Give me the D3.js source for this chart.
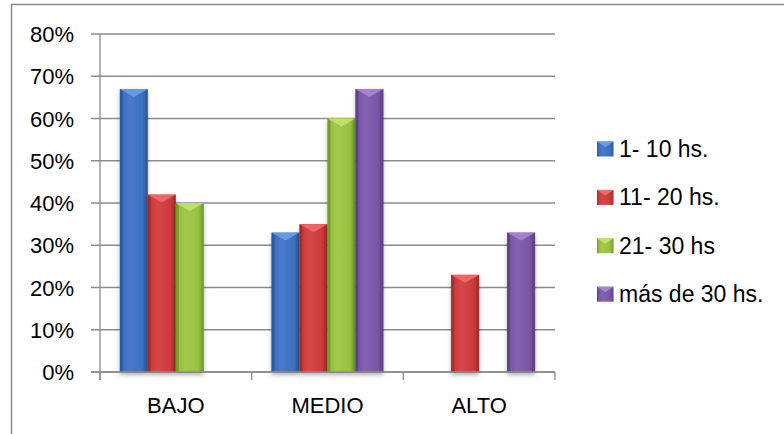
<!DOCTYPE html>
<html><head><meta charset="utf-8">
<script src="https://cdn.jsdelivr.net/npm/d3@7"></script>
<style>body{margin:0;background:#fff;} svg{display:block;} text{font-family:"Liberation Sans",Arial,sans-serif;fill:#000;}</style>
</head><body>
<script>
const categories = ["BAJO", "MEDIO", "ALTO"];
const series = ["1- 10 hs.", "11- 20 hs.", "21- 30 hs", "más de 30 hs."];
const values1to10 = [0.67, 0.33, 0];
const values11to20 = [0.42, 0.35, 0.23];
const values21to30 = [0.40, 0.60, 0];
const valuesOver30 = [0, 0.67, 0.33];
const yTicks = [0, 0.1, 0.2, 0.3, 0.4, 0.5, 0.6, 0.7, 0.8];
const colors = ["#3c70bf", "#cc3b3b", "#97c13f", "#7a56a6"];
const light = ["#6b9de6", "#ee6b6b", "#c2e36a", "#a587d0"];
const dark = ["#2a5597", "#9e2a2a", "#6f9428", "#5a3d80"];

const allValues = [values1to10, values11to20, values21to30, valuesOver30];

const W = 784, H = 434;
const svg = d3.select("body").append("svg").attr("width", W).attr("height", H);
const defs = svg.append("defs");
colors.forEach((c, i) => {
  const g = defs.append("linearGradient").attr("id", "g" + i).attr("x1", "0").attr("x2", "1").attr("y1", "0").attr("y2", "0");
  g.append("stop").attr("offset", "0").attr("stop-color", dark[i]);
  g.append("stop").attr("offset", "0.12").attr("stop-color", c);
  g.append("stop").attr("offset", "0.35").attr("stop-color", d3.interpolateRgb(c, light[i])(0.25));
  g.append("stop").attr("offset", "0.8").attr("stop-color", c);
  g.append("stop").attr("offset", "1").attr("stop-color", dark[i]);
});
const f = defs.append("filter").attr("id", "sh").attr("x", "-20%").attr("y", "-5%").attr("width", "140%").attr("height", "115%");
f.append("feDropShadow").attr("dx", 0).attr("dy", 3).attr("stdDeviation", 2).attr("flood-color", "#000").attr("flood-opacity", 0.3);

// outer border
svg.append("rect").attr("x", 11.5).attr("y", 4.5).attr("width", 900).attr("height", 600)
  .attr("fill", "none").attr("stroke", "#888").attr("stroke-width", 1.5);

const x = d3.scaleBand().domain(categories).range([100, 555]);
const xs = d3.scaleBand().domain(series).range([0, x.bandwidth()]).paddingOuter(0.71);
const y = d3.scaleLinear().domain([0, 0.8]).range([372, 34]);

// gridlines + y labels
const yg = svg.append("g");
yg.selectAll("line").data(yTicks).join("line")
  .attr("x1", 91).attr("x2", 555).attr("y1", d => y(d)).attr("y2", d => y(d))
  .attr("stroke", "#8c8c8c").attr("stroke-width", 1.3);
yg.selectAll("text").data(yTicks).join("text")
  .attr("x", 74).attr("y", d => y(d) + 8).attr("text-anchor", "end")
  .attr("font-size", 22).text(d => d3.format(".0%")(d));

// y axis line
svg.append("line").attr("x1", 100).attr("x2", 100).attr("y1", 34).attr("y2", 380)
  .attr("stroke", "#8c8c8c").attr("stroke-width", 1.3);
// x ticks
const xt = [...categories.map(c => x(c)), 555];
svg.selectAll(".xt").data(xt).join("line").attr("class", "xt")
  .attr("x1", d => d).attr("x2", d => d).attr("y1", 372).attr("y2", 380)
  .attr("stroke", "#8c8c8c").attr("stroke-width", 1.3);

// bars
const bars = svg.append("g");
series.forEach((s, si) => {
  categories.forEach((c, ci) => {
    const v = allValues[si][ci];
    if (!v) return;
    const bx = x(c) + xs(s), bw = xs.bandwidth(), by = y(v), bh = y(0) - y(v);
    const g = bars.append("g");
    g.append("rect").attr("x", bx).attr("y", by).attr("width", bw).attr("height", bh)
      .attr("fill", `url(#g${si})`).attr("filter", "url(#sh)");
    g.append("path").attr("d", `M${bx},${by}L${bx + bw},${by}L${bx + bw / 2},${by + 8}Z`)
      .attr("fill", light[si]).attr("opacity", 0.9);
    g.append("path").attr("d", `M${bx},${by}L${bx + 3},${by + 3}L${bx + 3},${y(0)}L${bx},${y(0)}Z`)
      .attr("fill", dark[si]).attr("opacity", 0.6);
  });
});
svg.append("line").attr("x1", 91).attr("x2", 555).attr("y1", y(0)).attr("y2", y(0))
  .attr("stroke", "#8c8c8c").attr("stroke-width", 1.3);

// category labels
svg.selectAll(".cl").data(categories).join("text").attr("class", "cl")
  .attr("x", d => x(d) + x.bandwidth() / 2).attr("y", 413).attr("text-anchor", "middle")
  .attr("font-size", 22).text(d => d);

// legend
const lg = svg.append("g");
series.forEach((s, i) => {
  const cy = 149 + i * 48.4;
  lg.append("rect").attr("x", 597).attr("y", cy - 7.5).attr("width", 16.5).attr("height", 15)
    .attr("fill", `url(#g${i})`);
  lg.append("path").attr("d", `M597,${cy - 7.5}L613.5,${cy - 7.5}L605.25,${cy - 2}Z`).attr("fill", light[i]);
  lg.append("text").attr("x", 619).attr("y", cy + 8).attr("font-size", 23).text(s);
});
</script>
</body></html>
